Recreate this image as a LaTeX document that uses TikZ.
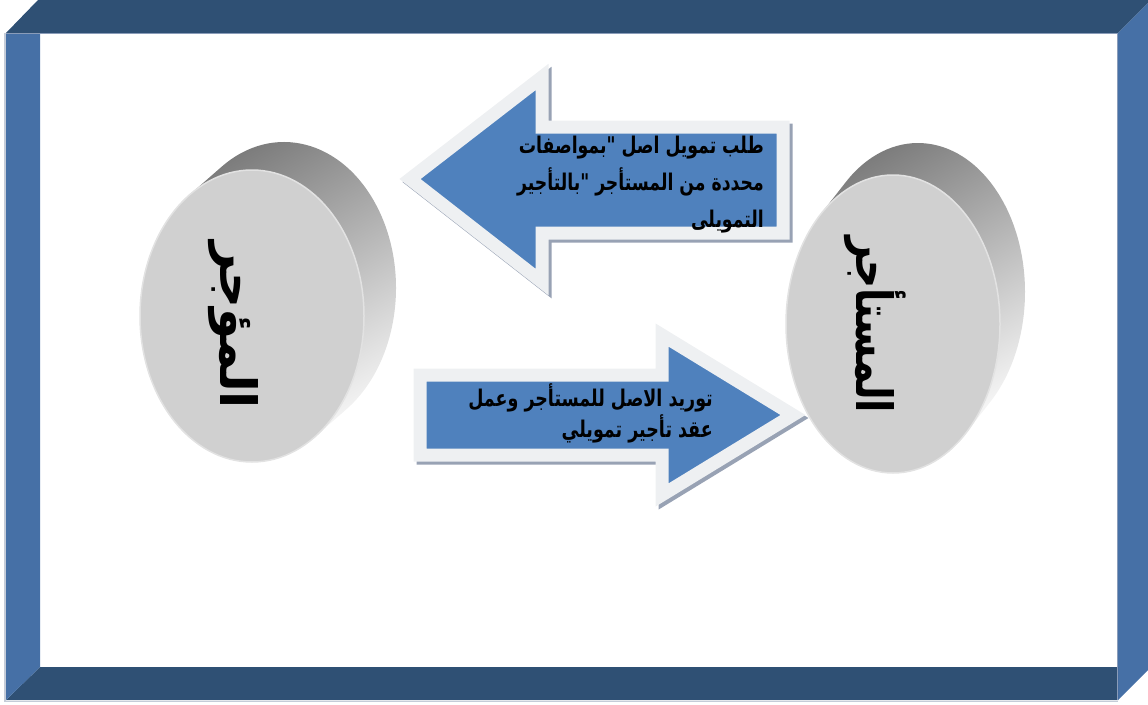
\documentclass[tikz,border=0pt]{standalone}
\usepackage{graphicx}
\usepackage{fontspec}
\newfontfamily\arabicfont[Script=Arabic]{DejaVu Sans}
\TeXXeTstate=1
\definecolor{framedark}{HTML}{2F5074}
\definecolor{framelight}{HTML}{4670A6}
\definecolor{frameedge}{HTML}{8A9CB9}
\definecolor{frameshadow}{HTML}{C5CCD8}
\definecolor{arrowblue}{HTML}{4F81BD}
\definecolor{arrowrim}{HTML}{EEF0F2}
\definecolor{arrowshadow}{HTML}{98A2B4}
\definecolor{discface}{HTML}{D0D0D0}
\definecolor{discrim}{HTML}{E2E2E2}
\definecolor{discdark}{HTML}{7C7C7C}
\definecolor{disclight}{HTML}{F4F4F4}
\tikzset{
  arrowshade/.style={draw=arrowshadow, fill=arrowshadow, line width=13pt, line join=miter, shift={(3,3)}},
  arrowbody/.style={draw=arrowrim, fill=arrowblue, line width=13pt, line join=miter},
  arrowtext/.style={align=right, inner sep=0pt, text=black, font=\arabicfont\bfseries\fontsize{23}{37}\selectfont},
  arrowtextb/.style={align=right, inner sep=0pt, text=black, font=\arabicfont\bfseries\fontsize{23}{31}\selectfont},
  discside/.style={top color=discdark, bottom color=disclight, shading angle=30},
  discfront/.style={fill=discface, draw=discrim, line width=1.5pt},
  disctext/.style={rotate=-90, inner sep=0pt, text=black, font=\arabicfont\bfseries\fontsize{50}{60}\selectfont}
}
\begin{document}
\begin{tikzpicture}[x=1pt,y=-1pt]
\useasboundingbox (0,0) rectangle (1148,704);
% frame
\fill[framedark] (38,0) -- (1148,0) -- (1148,3) -- (1118,33) -- (6,33) -- cycle;
\fill[framelight] (1118,33) -- (1148,3) -- (1148,670) -- (1118,700) -- cycle;
\fill[framedark] (40,667) -- (1118,667) -- (1118,700) -- (6,700) -- cycle;
\fill[framelight] (6,33) -- (40,33) -- (40,667) -- (6,700) -- cycle;
\draw[frameedge, line width=1.5pt] (6,33.5) -- (1118,33.5);
\draw[frameedge, line width=1.5pt] (1117.5,33) -- (1117.5,700);
\draw[frameshadow, line width=1.5pt] (5,33) -- (5,701.5) -- (1118,701.5);
% left disc
\shade[discside] (252,316) ++(236.1:112 and 146) -- ++(32,-28)
  arc[start angle=236.1, end angle=416.1, x radius=112, y radius=146] -- ++(-32,28)
  arc[start angle=56.1, end angle=-123.9, x radius=112, y radius=146] -- cycle;
\path[discfront] (252,316) ellipse[x radius=112, y radius=146];
\node[disctext] (lessor) at (233,325) {\beginR المؤجر\endR};
% right disc
\shade[discside] (893,324) ++(227.4:107 and 149) -- ++(25,-32)
  arc[start angle=227.4, end angle=407.4, x radius=107, y radius=149] -- ++(-25,32)
  arc[start angle=47.4, end angle=-132.6, x radius=107, y radius=149] -- cycle;
\path[discfront] (893,324) ellipse[x radius=107, y radius=149];
\node[disctext] (lessee) at (875,325) {\scalebox{0.78}[1]{\beginR المستأجر\endR}};
% left arrow
\path[arrowshade] (410,179) -- (542,77) -- (542,127) -- (783,127) -- (783,233) -- (542,233) -- (542,282) -- cycle;
\path[arrowbody] (410,179) -- (542,77) -- (542,127) -- (783,127) -- (783,233) -- (542,233) -- (542,282) -- cycle;
\node[arrowtext, anchor=east] (request) at (764,185) {\scalebox{0.75}[1]{\beginR طلب تمويل اصل "بمواصفات\endR}\\\scalebox{0.75}[1]{\beginR محددة من المستأجر "بالتأجير\endR}\\\scalebox{0.75}[1]{\beginR التمويلى\endR}};
% right arrow
\path[arrowshade] (420,375) -- (662,375) -- (662,335) -- (793,415) -- (662,495) -- (662,455) -- (420,455) -- cycle;
\path[arrowbody] (420,375) -- (662,375) -- (662,335) -- (793,415) -- (662,495) -- (662,455) -- (420,455) -- cycle;
\node[arrowtextb, anchor=east] (supply) at (713,413) {\scalebox{0.76}[1]{\beginR توريد الاصل للمستأجر وعمل\endR}\\\scalebox{0.76}[1]{\beginR عقد تأجير تمويلي\endR}};
\end{tikzpicture}
\end{document}
